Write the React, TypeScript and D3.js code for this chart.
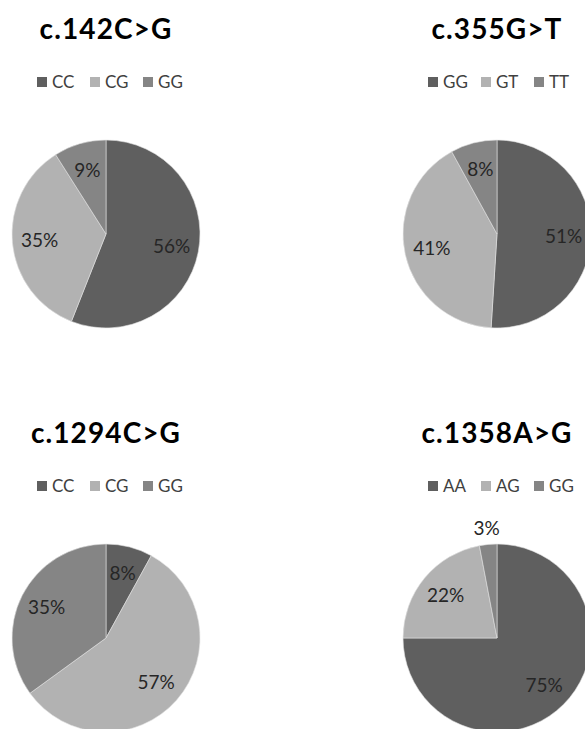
import React from "react";
import * as d3 from "d3";

const titles = ["c.142C>G", "c.355G>T", "c.1294C>G", "c.1358A>G"];
const genotypes = [
  ["CC", "CG", "GG"],
  ["GG", "GT", "TT"],
  ["CC", "CG", "GG"],
  ["AA", "AG", "GG"],
];
const percents = [
  [56, 35, 9],
  [51, 41, 8],
  [8, 57, 35],
  [75, 22, 3],
];
const sliceColors = ["#5f5f5f", "#b2b2b2", "#858585"];

const W = 585;
const H = 729;
const colCenters = [106, 497];
const rowTops = [0, 404];
const R = 94;
const FONT = "Lato, 'Open Sans', sans-serif";

function PiePanel({ idx }: { idx: number }) {
  const cx = colCenters[idx % 2];
  const top = rowTops[Math.floor(idx / 2)];
  const cy = top + 234;
  const values = percents[idx];
  const cats = genotypes[idx];
  const pie = d3.pie<number>().sort(null).value((d) => d);
  const arcs = pie(values);
  const arc = d3.arc<d3.PieArcDatum<number>>().innerRadius(0).outerRadius(R);
  const labelArc = d3
    .arc<d3.PieArcDatum<number>>()
    .innerRadius(R * 0.71)
    .outerRadius(R * 0.71);
  const outerLabelArc = d3
    .arc<d3.PieArcDatum<number>>()
    .innerRadius(R * 1.17)
    .outerRadius(R * 1.17);
  const legendStart = cx - 69;
  const step = 53;
  return (
    <g>
      <text
        x={cx}
        y={top + 39}
        textAnchor="middle"
        fontFamily={FONT}
        fontWeight="bold"
        fontSize={28}
        letterSpacing={1.1}
        fill="#000"
      >
        {titles[idx]}
      </text>
      {cats.map((c, i) => (
        <g key={c + i} transform={`translate(${legendStart + i * step},${top + 82})`}>
          <rect x={0} y={-5} width={10} height={10} fill={sliceColors[i]} />
          <text x={15} y={6} fontFamily={FONT} fontSize={17} fill="#404040">
            {c}
          </text>
        </g>
      ))}
      <g transform={`translate(${cx},${cy})`}>
        {arcs.map((a, i) => (
          <path key={i} d={arc(a) || ""} fill={sliceColors[i]} stroke="#e0e0e0" strokeWidth={0.6} />
        ))}
        {arcs.map((a, i) => {
          const [lx, ly] = a.data < 5 ? outerLabelArc.centroid(a) : labelArc.centroid(a);
          return (
            <text
              key={"l" + i}
              x={lx}
              y={ly}
              dy="0.35em"
              textAnchor="middle"
              fontFamily={FONT}
              fontSize={19}
              fill="#262626"
            >
              {a.data + "%"}
            </text>
          );
        })}
      </g>
    </g>
  );
}

export default function App() {
  return (
    <svg
      width={W}
      height={H}
      style={{ position: "absolute", left: 0, top: 0, background: "#fff" }}
    >
      <rect width={W} height={H} fill="#fff" />
      {[0, 1, 2, 3].map((i) => (
        <PiePanel key={i} idx={i} />
      ))}
    </svg>
  );
}
